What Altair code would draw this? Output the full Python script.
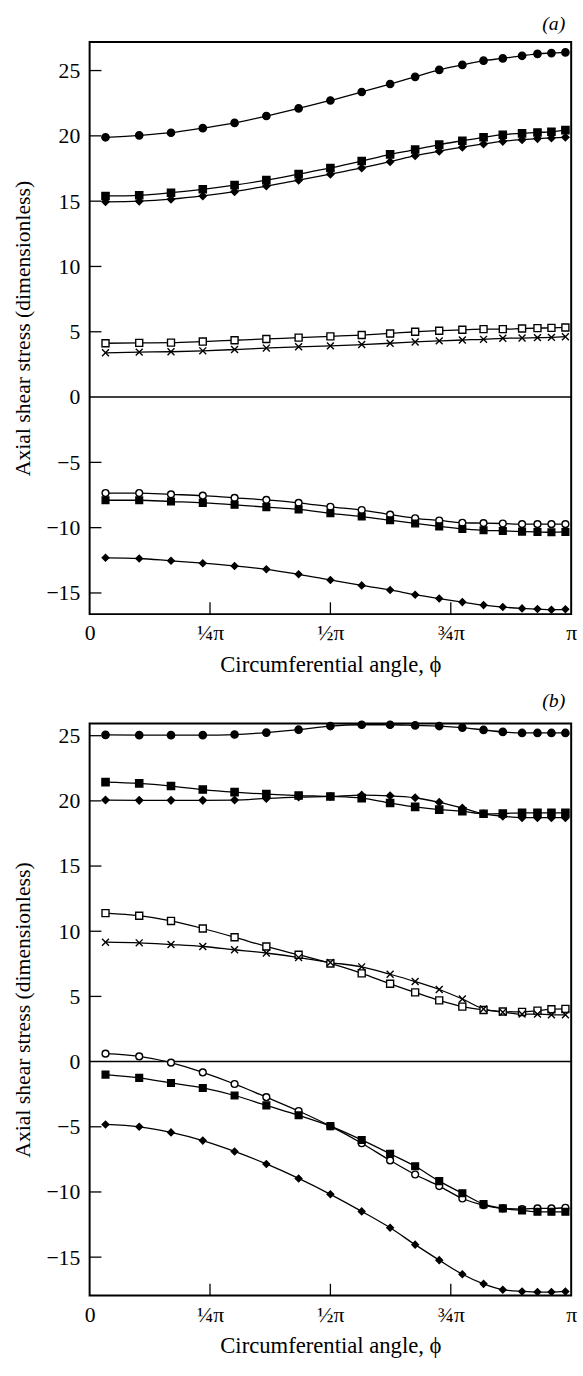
import altair as alt
import pandas as pd

# circumferential positions (in units of pi), shared by all curves
phi = [0.033, 0.103, 0.169, 0.235, 0.301, 0.367, 0.434, 0.500, 0.565, 0.624,
       0.676, 0.726, 0.774, 0.818, 0.858, 0.898, 0.930, 0.959, 0.988]

series = ["A", "B", "C", "D", "E", "F", "G", "H"]

# ---- panel (a) ----
a_A = [19.89, 20.04, 20.24, 20.59, 20.99, 21.52, 22.10, 22.71, 23.36, 23.97,
       24.52, 25.05, 25.43, 25.76, 25.93, 26.13, 26.28, 26.34, 26.39]
a_B = [15.40, 15.45, 15.65, 15.91, 16.23, 16.61, 17.07, 17.54, 18.07, 18.58,
       18.95, 19.33, 19.63, 19.89, 20.09, 20.19, 20.26, 20.31, 20.44]
a_C = [14.95, 15.00, 15.15, 15.40, 15.73, 16.16, 16.61, 17.07, 17.54, 18.02,
       18.48, 18.83, 19.13, 19.38, 19.58, 19.71, 19.79, 19.84, 19.89]
a_D = [4.12, 4.15, 4.17, 4.25, 4.35, 4.45, 4.55, 4.65, 4.75, 4.87,
       5.00, 5.08, 5.15, 5.20, 5.20, 5.25, 5.28, 5.30, 5.33]
a_E = [3.39, 3.44, 3.47, 3.54, 3.64, 3.75, 3.85, 3.92, 4.02, 4.12,
       4.22, 4.30, 4.37, 4.42, 4.50, 4.52, 4.55, 4.57, 4.62]
a_F = [-7.35, -7.35, -7.45, -7.55, -7.72, -7.87, -8.10, -8.40, -8.65, -9.00,
       -9.28, -9.45, -9.63, -9.65, -9.68, -9.73, -9.73, -9.73, -9.73]
a_G = [-7.90, -7.90, -8.00, -8.10, -8.25, -8.43, -8.60, -8.90, -9.15, -9.43,
       -9.68, -9.90, -10.10, -10.20, -10.25, -10.30, -10.33, -10.35, -10.33]
a_H = [-12.31, -12.36, -12.54, -12.72, -12.93, -13.19, -13.57, -14.00, -14.42, -14.77,
       -15.13, -15.43, -15.70, -15.93, -16.08, -16.18, -16.23, -16.28, -16.25]

# ---- panel (b) ----
b_A = [25.06, 25.04, 25.04, 25.04, 25.09, 25.24, 25.46, 25.74, 25.84, 25.84,
       25.79, 25.74, 25.62, 25.44, 25.29, 25.21, 25.21, 25.21, 25.21]
b_B = [21.44, 21.34, 21.14, 20.87, 20.67, 20.52, 20.41, 20.34, 20.21, 19.84,
       19.54, 19.33, 19.21, 19.01, 19.03, 19.08, 19.08, 19.08, 19.08]
b_C = [20.06, 20.04, 20.04, 20.04, 20.06, 20.19, 20.29, 20.34, 20.44, 20.39,
       20.24, 19.89, 19.46, 19.01, 18.83, 18.71, 18.71, 18.71, 18.71]
b_D = [11.39, 11.19, 10.79, 10.21, 9.54, 8.83, 8.20, 7.53, 6.77, 5.97,
       5.31, 4.70, 4.22, 3.96, 3.84, 3.81, 3.91, 4.02, 4.04]
b_E = [9.16, 9.11, 8.98, 8.83, 8.58, 8.33, 7.98, 7.60, 7.27, 6.70,
       6.14, 5.53, 4.80, 4.04, 3.79, 3.64, 3.64, 3.59, 3.59]
b_F = [0.61, 0.40, -0.08, -0.83, -1.72, -2.73, -3.79, -4.95, -6.26, -7.58,
       -8.66, -9.55, -10.50, -11.01, -11.26, -11.31, -11.26, -11.26, -11.21]
b_G = [-1.00, -1.25, -1.64, -2.02, -2.60, -3.36, -4.12, -4.95, -6.01, -7.07,
       -8.03, -9.17, -10.10, -10.93, -11.26, -11.41, -11.52, -11.52, -11.52]
b_H = [-4.82, -5.00, -5.43, -6.06, -6.89, -7.85, -8.96, -10.18, -11.49, -12.75,
       -14.04, -15.23, -16.31, -17.05, -17.50, -17.63, -17.68, -17.68, -17.63]

y_tick_values = [-15, -10, -5, 0, 5, 10, 15, 20, 25]
inner_y_ticks = [-15, -10, -5, 5, 10, 15, 20, 25]
x_tick_values = [0, 0.25, 0.5, 0.75, 1]
inner_x_ticks = [0.25, 0.5, 0.75]

marker_shapes = ["circle", "square", "diamond", "square",
                 "M-1,-1L1,1M-1,1L1,-1", "circle", "square", "diamond"]
marker_fills = ["black", "black", "black", "white", "white", "white", "black", "black"]
marker_sizes = [55, 45, 50, 38, 45, 45, 50, 30]

FONT = "Liberation Serif"
W, H = 489, 581


def make_df(cols):
    rows = []
    for s, vals in zip(series, cols):
        for x, y in zip(phi, vals):
            rows.append({"phi": x, "y": y, "series": s})
    return pd.DataFrame(rows)


def panel(cols, ymin, ymax, label):
    df = make_df(cols)
    xs = alt.Scale(domain=[0, 1], nice=False, zero=False)
    ys = alt.Scale(domain=[ymin, ymax], nice=False, zero=False)
    xaxis = alt.Axis(values=x_tick_values,
                     labelExpr="datum.value == 0 ? '0' : datum.value == 0.25 ? '¼π' : "
                               "datum.value == 0.5 ? '½π' : datum.value == 0.75 ? '¾π' : 'π'",
                     title="Circumferential angle,  ϕ", titleFontSize=23,
                     labelPadding=9, titlePadding=10,
                     ticks=False, domain=False, grid=False, labelFlush=False, labelOverlap=False)
    yaxis = alt.Axis(values=y_tick_values, title="Axial shear stress (dimensionless)",
                     labelPadding=10, titlePadding=12, ticks=False, domain=False, grid=False,
                     labelFlush=False, labelOverlap=False)
    X = alt.X("phi:Q", scale=xs, axis=xaxis)
    Y = alt.Y("y:Q", scale=ys, axis=yaxis)

    zero = alt.Chart(pd.DataFrame({"y": [0]})).mark_rule(color="black", strokeWidth=1.5).encode(y=Y)
    yt = alt.Chart(pd.DataFrame({"y": inner_y_ticks})).mark_rule(color="black", strokeWidth=1.3).encode(
        y=Y, x=alt.value(0), x2=alt.value(12))
    xt = alt.Chart(pd.DataFrame({"phi": inner_x_ticks})).mark_rule(color="black", strokeWidth=1.3).encode(
        x=X, y=alt.value(H), y2=alt.value(H - 12))
    lines = alt.Chart(df).mark_line(interpolate="monotone", color="black", strokeWidth=1.3).encode(
        x=X, y=Y, detail="series:N")
    pts = alt.Chart(df).mark_point(opacity=1, strokeWidth=1.4, color="black").encode(
        x=X, y=Y,
        shape=alt.Shape("series:N", scale=alt.Scale(domain=series, range=marker_shapes), legend=None),
        fill=alt.Fill("series:N", scale=alt.Scale(domain=series, range=marker_fills), legend=None),
        size=alt.Size("series:O", scale=alt.Scale(domain=series, range=marker_sizes), legend=None),
    )
    return alt.layer(zero, yt, xt, lines, pts).properties(
        width=W, height=H,
        title=alt.TitleParams(text=label, anchor="end", frame="group", font=FONT, fontSize=20,
                              fontStyle="italic", fontWeight="normal", color="black", offset=8, dx=-6),
    )


pa = panel([a_A, a_B, a_C, a_D, a_E, a_F, a_G, a_H], -16.62, 27.19, "(a)")
pb = panel([b_A, b_B, b_C, b_D, b_E, b_F, b_G, b_H], -17.95, 25.94, "(b)")

chart = alt.vconcat(pa, pb, spacing=12).properties(
    padding={"left": 10, "top": 3, "right": 5, "bottom": 5},
    background="white",
).configure_view(
    stroke="black", strokeWidth=2
).configure_axis(
    labelFont=FONT, titleFont=FONT, labelFontSize=22, titleFontSize=22,
    titleFontWeight="normal", labelColor="black", titleColor="black",
)

chart.save("out.html", embed_options={"renderer": "svg", "actions": False})
